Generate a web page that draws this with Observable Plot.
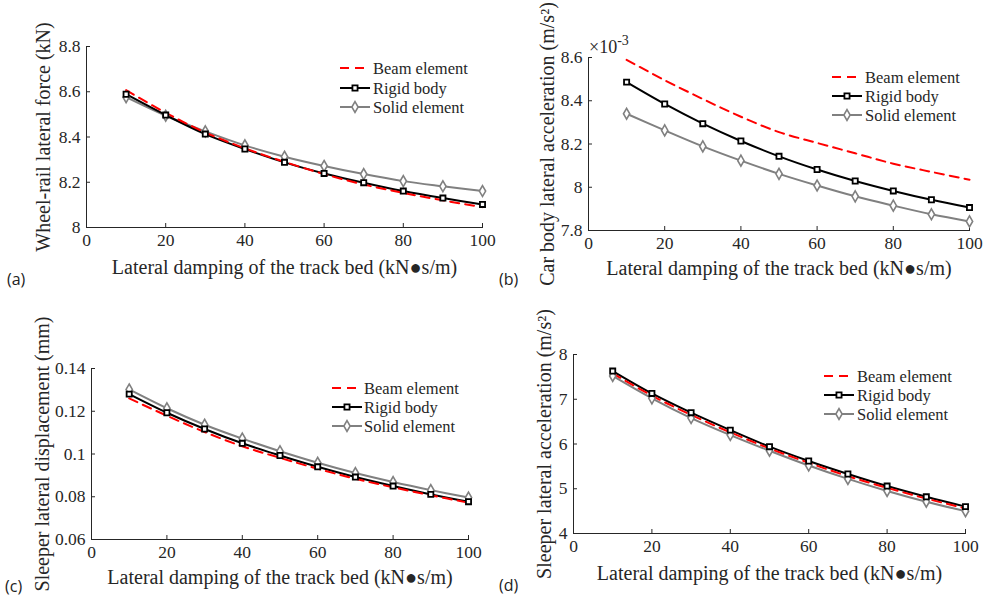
<!DOCTYPE html>
<html><head><meta charset="utf-8">
<script src="https://cdn.jsdelivr.net/npm/d3@7"></script>
<script src="https://cdn.jsdelivr.net/npm/@observablehq/plot@0.6"></script>
<style>
body{margin:0;background:#fff;}
#root{position:relative;width:988px;height:599px;overflow:hidden;background:#fff;}
.panel{position:absolute;}
#overlay{position:absolute;left:0;top:0;pointer-events:none;}
</style></head><body><div id="root"></div>
<script>
// ---- data ----
const damping = [10, 20, 30, 40, 50, 60, 70, 80, 90, 100];
const xTicks = [0, 20, 40, 60, 80, 100];
const seriesNames = ["Beam element", "Rigid body", "Solid element"];
const xLabel = "Lateral damping of the track bed (kN\u25CFs/m)";

// (a) wheel-rail lateral force (kN)
const aBeam  = [8.607, 8.507, 8.420, 8.350, 8.290, 8.236, 8.190, 8.153, 8.120, 8.090];
const aRigid = [8.589, 8.497, 8.413, 8.347, 8.288, 8.239, 8.198, 8.161, 8.130, 8.102];
const aSolid = [8.576, 8.494, 8.425, 8.363, 8.313, 8.272, 8.236, 8.205, 8.182, 8.161];
const aTicks = [8, 8.2, 8.4, 8.6, 8.8];

// (b) car body lateral acceleration (x10^-3 m/s^2)
const bBeam  = [8.589, 8.495, 8.408, 8.326, 8.255, 8.205, 8.157, 8.109, 8.071, 8.035];
const bRigid = [8.486, 8.385, 8.294, 8.214, 8.143, 8.082, 8.029, 7.983, 7.942, 7.906];
const bSolid = [8.340, 8.263, 8.189, 8.123, 8.062, 8.008, 7.958, 7.915, 7.875, 7.842];
const bTicks = [7.8, 8, 8.2, 8.4, 8.6];

// (c) sleeper lateral displacement (mm)
const cBeam  = [0.1260, 0.1179, 0.1103, 0.1036, 0.0982, 0.0931, 0.0884, 0.0844, 0.0807, 0.0772];
const cRigid = [0.1280, 0.1193, 0.1117, 0.1050, 0.0993, 0.0940, 0.0892, 0.0850, 0.0811, 0.0777];
const cSolid = [0.1302, 0.1214, 0.1137, 0.1072, 0.1013, 0.0959, 0.0911, 0.0869, 0.0831, 0.0796];
const cTicks = [0.06, 0.08, 0.1, 0.12, 0.14];

// (d) sleeper lateral acceleration (m/s^2)
const dBeam  = [7.58, 7.08, 6.65, 6.26, 5.90, 5.58, 5.28, 5.02, 4.78, 4.56];
const dRigid = [7.63, 7.13, 6.70, 6.31, 5.94, 5.62, 5.33, 5.06, 4.82, 4.60];
const dSolid = [7.52, 7.02, 6.58, 6.20, 5.85, 5.52, 5.22, 4.95, 4.71, 4.50];
const dTicks = [4, 5, 6, 7, 8];

const colors = {beam: "#ff0000", rigid: "#000000", solid: "#808080"};
const serif = "'Liberation Serif', 'Times New Roman', serif";
const fmt = d => String(+d.toFixed(4));
const SQ_R = 2.9, DI_R = 3.3;

function toRows(vals) { return damping.map((x, i) => ({x, y: vals[i]})); }

function makePanel(p) {
  const beam = toRows(p.beam), rigid = toRows(p.rigid), solid = toRows(p.solid);
  const chart = Plot.plot({
    width: p.width, height: p.height,
    marginLeft: p.ml, marginRight: p.mr, marginTop: p.mt, marginBottom: p.mb,
    style: {fontFamily: serif, fontSize: "17px", color: "#262626", background: "transparent", overflow: "visible"},
    x: {domain: [0, 100]},
    y: {domain: [p.yTicks[0], p.yTicks[p.yTicks.length - 1]]},
    marks: [
      Plot.axisX(xTicks, {tickSize: -4, tickPadding: 10, label: null, stroke: "#262626", fill: "#262626", fontSize: 17.5, tickFormat: fmt}),
      Plot.axisY(p.yTicks, {tickSize: -4, tickPadding: 10, label: null, stroke: "#262626", fill: "#262626", fontSize: 17.5, tickFormat: fmt}),
      Plot.frame({anchor: "left", stroke: "#262626"}),
      Plot.frame({anchor: "bottom", stroke: "#262626"}),
      Plot.line(solid, {x: "x", y: "y", stroke: colors.solid, strokeWidth: 2, curve: "catmull-rom"}),
      Plot.line(rigid, {x: "x", y: "y", stroke: colors.rigid, strokeWidth: 2, curve: "catmull-rom"}),
      Plot.line(beam, {x: "x", y: "y", stroke: colors.beam, strokeWidth: 2, strokeDasharray: "9,6", curve: "catmull-rom"}),
      Plot.dot(solid, {x: "x", y: "y", symbol: "diamond", r: DI_R, stroke: colors.solid, fill: "#fff", strokeWidth: 1.6}),
      Plot.dot(rigid, {x: "x", y: "y", symbol: "square", r: SQ_R, stroke: colors.rigid, fill: "#fff", strokeWidth: 1.8}),
      Plot.text([xLabel], {frameAnchor: "bottom", dy: p.xlDy, lineAnchor: "middle", fontSize: 20, fill: "#262626"}),
      Plot.text([p.yLabel], {frameAnchor: "left", dx: p.ylDx, rotate: -90, lineAnchor: "middle", textAnchor: "middle", fontSize: 20, fill: "#262626"})
    ]
  });
  chart.classList.add("panel");
  chart.style.left = p.left + "px";
  chart.style.top = p.top + "px";
  document.getElementById("root").appendChild(chart);
}

makePanel({beam: aBeam, rigid: aRigid, solid: aSolid, yTicks: aTicks,
  yLabel: "Wheel-rail lateral force (kN)",
  left: 0, top: 0, width: 494, height: 300, ml: 86, mr: 12, mt: 46, mb: 73, xlDy: 40, ylDx: -43});
makePanel({beam: bBeam, rigid: bRigid, solid: bSolid, yTicks: bTicks,
  yLabel: "Car body lateral acceleration (m/s\u00B2)",
  left: 494, top: 0, width: 494, height: 300, ml: 94, mr: 19, mt: 57, mb: 70, xlDy: 38, ylDx: -41});
makePanel({beam: cBeam, rigid: cRigid, solid: cSolid, yTicks: cTicks,
  yLabel: "Sleeper lateral displacement (mm)",
  left: 0, top: 300, width: 494, height: 299, ml: 91, mr: 26, mt: 68, mb: 60, xlDy: 38, ylDx: -49});
makePanel({beam: dBeam, rigid: dRigid, solid: dSolid, yTicks: dTicks,
  yLabel: "Sleeper lateral acceleration (m/s\u00B2)",
  left: 494, top: 300, width: 494, height: 299, ml: 79, mr: 23, mt: 54, mb: 66, xlDy: 40, ylDx: -29});

// ---- overlay: legends, panel tags, exponent ----
const svg = d3.select("#root").append("svg").attr("id", "overlay").attr("width", 988).attr("height", 599);
const legends = [
  {x1: 340, x2: 370, tx: 373, ys: [68, 88, 107]},
  {x1: 832, x2: 862, tx: 865, ys: [77, 96, 115]},
  {x1: 332, x2: 362, tx: 364, ys: [388, 407, 426]},
  {x1: 824, x2: 854, tx: 857, ys: [376, 395, 414]}
];
legends.forEach(L => {
  const keys = ["beam", "rigid", "solid"];
  keys.forEach((k, i) => {
    const y = L.ys[i];
    const ln = svg.append("line").attr("x1", L.x1).attr("x2", L.x2).attr("y1", y).attr("y2", y)
      .attr("stroke", colors[k]).attr("stroke-width", 2);
    if (k === "beam") ln.attr("stroke-dasharray", "9,6");
    const cx = (L.x1 + L.x2) / 2;
    if (k === "rigid") svg.append("path").attr("d", d3.symbol(d3.symbolSquare, SQ_R * SQ_R * Math.PI)())
      .attr("transform", `translate(${cx},${y})`).attr("fill", "#fff").attr("stroke", "#000").attr("stroke-width", 1.8);
    if (k === "solid") svg.append("path").attr("d", d3.symbol(d3.symbolDiamond, DI_R * DI_R * Math.PI)())
      .attr("transform", `translate(${cx},${y})`).attr("fill", "#fff").attr("stroke", colors.solid).attr("stroke-width", 1.6);
    svg.append("text").attr("x", L.tx).attr("y", y).attr("dy", "0.35em")
      .attr("font-family", serif).attr("font-size", 16.5).attr("fill", "#262626").text(seriesNames[i]);
  });
});
const tags = [["(a)", 7, 285], ["(b)", 499, 285], ["(c)", 5, 592], ["(d)", 499, 591]];
tags.forEach(([t, x, y]) => svg.append("text").attr("x", x).attr("y", y)
  .attr("font-family", "'Open Sans', sans-serif").attr("font-size", 16).attr("fill", "#222").text(t));
const ex = svg.append("text").attr("x", 589).attr("y", 53).attr("font-family", serif).attr("font-size", 18).attr("fill", "#262626");
ex.append("tspan").text("\u00D710");
ex.append("tspan").attr("dy", -8).attr("font-size", 14).text("-3");
</script></body></html>
